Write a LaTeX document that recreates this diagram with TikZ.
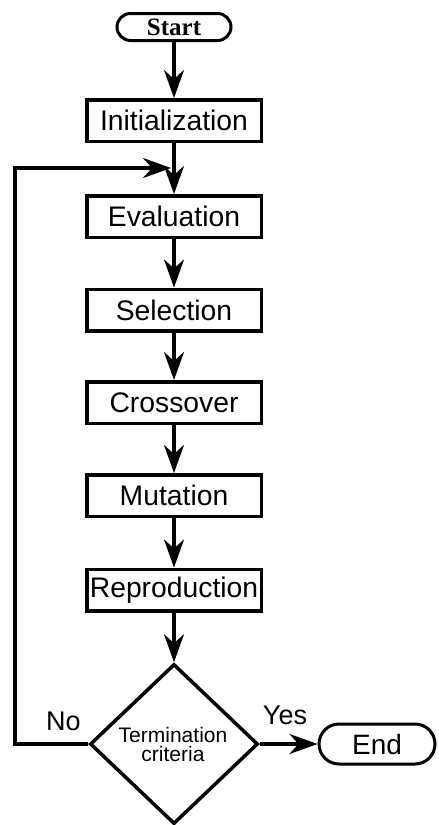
\documentclass[tikz,border=0pt]{standalone}
\usepackage{fontspec}
\setmainfont{Liberation Sans}
\newfontfamily\startfont{Liberation Serif}
\usetikzlibrary{arrows.meta,shapes.geometric,shapes.misc}
\begin{document}
\begin{tikzpicture}[x=1pt,y=-1pt,
  box/.style={draw, line width=3.5pt, minimum width=174.5pt, minimum height=41.5pt, inner sep=0pt, font=\fontsize{28.3}{30}\selectfont},
  term/.style={draw, rounded rectangle, line width=3pt, inner sep=0pt},
  ln/.style={line width=3.5pt},
  arr/.style={line width=3.5pt, -{Stealth[length=28pt,width=20pt,inset=9pt]}},
  lbl/.style={inner sep=0pt, anchor=base, font=\fontsize{27}{28}\selectfont}]
\useasboundingbox (0,0) rectangle (439,825);
\node[term, minimum width=114pt, minimum height=27pt, font=\startfont\bfseries\fontsize{25}{26}\selectfont] (start) at (174,27) {Start};
\node[box] (init) at (174,120.5) {Initialization};
\node[box] (eval) at (174,216.5) {Evaluation};
\node[box] (sel) at (174,310) {Selection};
\node[box] (cross) at (174,402.5) {Crossover};
\node[box] (mut) at (174,495.5) {Mutation};
\node[box] (rep) at (174,590) {Reproduction};
\node[draw, diamond, line width=3.5pt, minimum width=168pt, minimum height=160pt, inner sep=0pt] (crit) at (174,744) {};
\node[inner sep=0pt, align=center, font=\fontsize{21}{19}\selectfont] (crittext) at (173,744) {Termination\\criteria};
\node[term, minimum width=116pt, minimum height=40pt, font=\fontsize{28}{30}\selectfont] (end) at (377,744) {End};
\node[lbl] (no) at (63.5,730) {No};
\node[lbl] (yes) at (285,724) {Yes};
\coordinate (j) at (174,168);
\coordinate (c1) at (15,744);
\coordinate (c2) at (15,168);
\draw[arr] (start) -- (init);
\draw[arr] (init) -- (eval);
\draw[arr] (eval) -- (sel);
\draw[arr] (sel) -- (cross);
\draw[arr] (cross) -- (mut);
\draw[arr] (mut) -- (rep);
\draw[arr] (rep) -- (crit.north);
\draw[arr] (crit.east) -- (end.west);
\draw[arr, shorten >=3pt] (crit.west) -- (c1) -- (c2) -- (j);
\end{tikzpicture}
\end{document}
